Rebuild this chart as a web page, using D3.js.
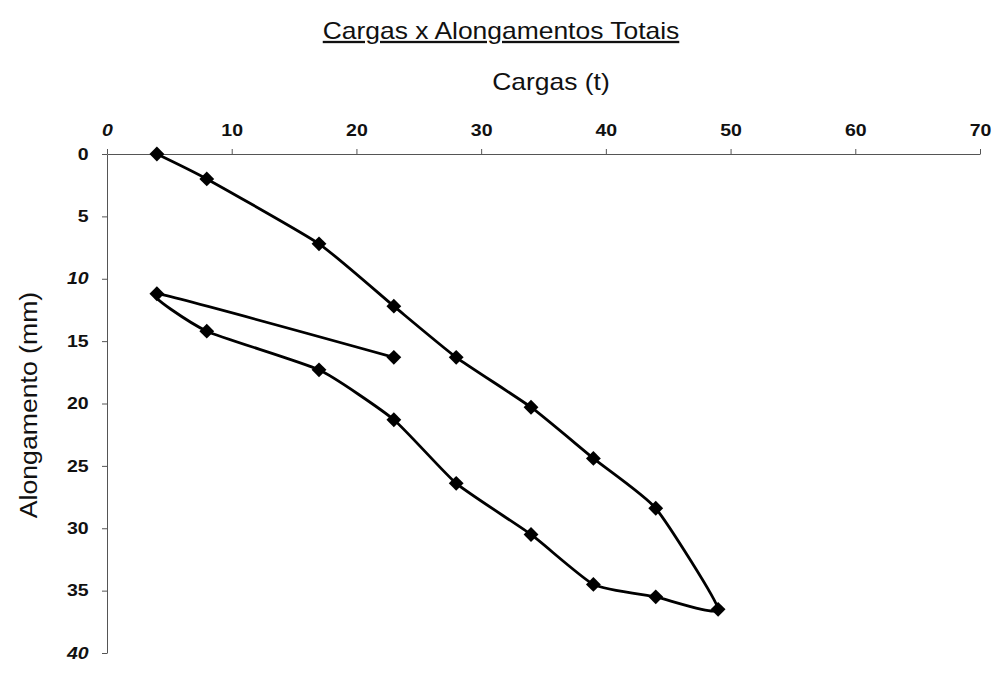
<!DOCTYPE html>
<html>
<head>
<meta charset="utf-8">
<script src="https://cdn.jsdelivr.net/npm/d3@7"></script>
<style>
  body { margin: 0; background: #fff; }
  text { font-family: "Liberation Sans", Arial, sans-serif; fill: #111; }
</style>
</head>
<body>
<div id="chart-area"></div>
<script>
// Cargas (t) e alongamentos (mm), na ordem do ensaio
const cargas = [4, 8, 17, 23, 28, 34, 39, 44, 49, 44, 39, 34, 28, 23, 17, 8, 4, 23];
const alongamentos = [0, 2, 7.2, 12.2, 16.3, 20.3, 24.4, 28.4, 36.5, 35.5, 34.5, 30.5, 26.4, 21.3, 17.3, 14.2, 11.2, 16.3];
const xTicks = [0, 10, 20, 30, 40, 50, 60, 70];
const yTicks = [0, 5, 10, 15, 20, 25, 30, 35, 40];

const titleText = "Cargas x Alongamentos Totais";
const xTitle = "Cargas (t)";
const yTitle = "Alongamento (mm)";

const svgWidth = 1000;
const svgHeight = 675;
const margin = { top: 154, left: 107 };
const width = 873;   // 0..70
const height = 499;  // 0..40
const stretch = 1.22; // the scan is wider than it is tall

const points = cargas.map((c, i) => ({ x: c, y: alongamentos[i] }));

const root = d3.select("#chart-area")
    .append("svg")
    .attr("width", svgWidth)
    .attr("height", svgHeight);

const svg = root.append("g")
    .attr("transform", `translate(${margin.left},${margin.top})`);

const xScale = d3.scaleLinear().domain([0, 70]).range([0, width]);
const yScale = d3.scaleLinear().domain([0, 40]).range([0, height]);

// title, underlined
root.append("text")
    .attr("transform", "translate(501,39) scale(1.15,1)")
    .attr("text-anchor", "middle")
    .attr("text-decoration", "underline")
    .style("font-size", "23px")
    .text(titleText);

root.append("text")
    .attr("transform", "translate(551,90) scale(1.15,1)")
    .attr("text-anchor", "middle")
    .style("font-size", "23px")
    .text(xTitle);

root.append("text")
    .attr("transform", "translate(37,405) rotate(-90) scale(1.11,1)")
    .attr("text-anchor", "middle")
    .style("font-size", "24px")
    .text(yTitle);

const italicLabels = new Set(["x0", "y10", "y40"]);

// x axis on top
const xAxisGroup = svg.append("g")
    .attr("class", "x-axis")
    .call(d3.axisTop(xScale)
        .tickValues(xTicks)
        .tickSizeInner(5)
        .tickSizeOuter(0)
        .tickPadding(13)
        .tickFormat(d => `${d}`));

xAxisGroup.selectAll("text")
    .attr("transform", `scale(${stretch},1)`)
    .style("font-size", "16px")
    .style("font-weight", "bold")
    .style("font-style", d => italicLabels.has("x" + d) ? "italic" : "normal");

// y axis, downwards
const yAxisGroup = svg.append("g")
    .attr("class", "y-axis")
    .call(d3.axisLeft(yScale)
        .tickValues(yTicks)
        .tickSizeInner(5)
        .tickSizeOuter(0)
        .tickPadding(10)
        .tickFormat(d => `${d}`));

yAxisGroup.selectAll("text")
    .attr("transform", `scale(${stretch},1)`)
    .style("font-size", "16px")
    .style("font-weight", "bold")
    .style("font-style", d => italicLabels.has("y" + d) ? "italic" : "normal");

svg.selectAll(".domain, .tick line")
    .attr("stroke", "#555")
    .attr("stroke-width", 1);

// smoothed line, as in the spreadsheet
const line = d3.line()
    .x(d => xScale(d.x))
    .y(d => yScale(d.y))
    .curve(d3.curveCardinal.tension(0.5));

svg.append("path")
    .datum(points)
    .attr("fill", "none")
    .attr("stroke", "#000")
    .attr("stroke-width", 2.8)
    .attr("stroke-linejoin", "round")
    .attr("d", line);

const diamond = d3.symbol().type(d3.symbolSquare).size(110);

svg.selectAll(".marker")
    .data(points)
    .join("path")
    .attr("class", "marker")
    .attr("transform", d => `translate(${xScale(d.x)},${yScale(d.y)}) rotate(45)`)
    .attr("d", diamond)
    .attr("fill", "#000");
</script>
</body>
</html>
